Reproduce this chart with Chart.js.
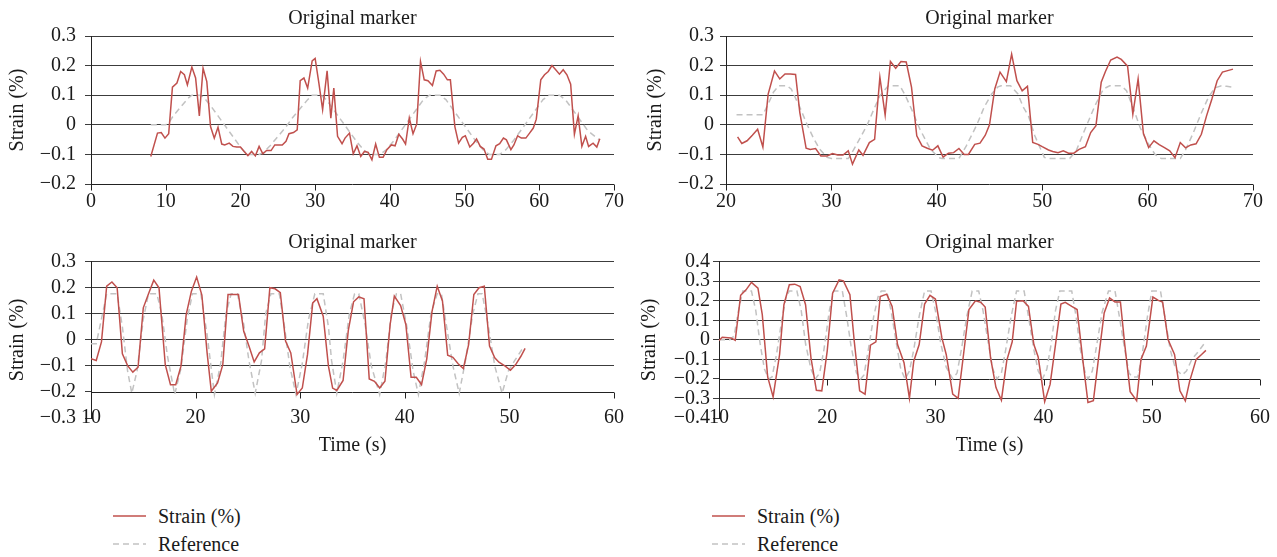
<!DOCTYPE html>
<html>
<head>
<meta charset="utf-8">
<script src="https://cdn.jsdelivr.net/npm/chart.js@4.4.0/dist/chart.umd.min.js"></script>
<style>
  body { margin: 0; background: #fff; width: 1277px; height: 557px; position: relative; overflow: hidden; }
  canvas { position: absolute; }
  .legend { position: absolute; font: 20px 'Liberation Serif', 'DejaVu Serif', serif; color: #1a1a1a; }
  .legend .item { height: 28px; display: flex; align-items: center; white-space: nowrap; }
  .legend svg { margin-right: 12px; }
</style>
</head>
<body>
<canvas id="tl" width="640" height="220" style="left:0;top:0"></canvas>
<canvas id="tr" width="640" height="220" style="left:637px;top:0"></canvas>
<canvas id="bl" width="640" height="240" style="left:0;top:225px"></canvas>
<canvas id="br" width="640" height="240" style="left:637px;top:225px"></canvas>
<div class="legend" id="legendLeft" style="left:113px;top:502px"></div>
<div class="legend" id="legendRight" style="left:712px;top:502px"></div>
<script>
// top left panel
const tlTime = [8.0, 8.9, 9.4, 9.9, 10.4, 10.9, 11.5, 12.0, 12.5, 12.9, 13.5, 14.0, 14.5, 15.0, 15.5, 16.0, 16.5, 17.0, 17.5, 17.9,
  18.5, 19.0, 19.5, 20.0, 20.5, 21.0, 21.5, 22.0, 22.5, 23.0, 23.5, 24.1, 24.6, 25.1, 25.6, 26.1, 26.5, 27.1, 27.6, 28.0,
  28.5, 29.0, 29.6, 30.0, 30.5, 31.0, 31.6, 32.1, 32.5, 33.0, 33.6, 34.0, 34.6, 35.1, 35.6, 36.1, 36.6, 37.1, 37.6, 38.1,
  38.6, 39.1, 39.6, 40.2, 40.7, 41.2, 41.7, 42.1, 42.6, 43.1, 43.6, 44.1, 44.6, 45.1, 45.7, 46.2, 46.7, 47.2, 47.7, 48.1,
  48.7, 49.2, 49.7, 50.1, 50.7, 51.2, 51.6, 52.1, 52.6, 53.1, 53.6, 54.2, 54.7, 55.2, 55.6, 56.2, 56.6, 57.1, 57.6, 58.2,
  58.7, 59.2, 59.6, 60.2, 60.7, 61.2, 61.7, 62.2, 62.7, 63.2, 63.7, 64.2, 64.7, 65.2, 65.7, 66.2, 66.6, 67.2, 67.7, 68.1];
const tlStrain = [-0.107, -0.028, -0.026, -0.045, -0.03, 0.127, 0.141, 0.18, 0.169, 0.135, 0.195, 0.158, 0.03, 0.191, 0.146, -0.006, -0.045, -0.008, -0.065, -0.068,
  -0.062, -0.073, -0.075, -0.075, -0.09, -0.104, -0.09, -0.105, -0.073, -0.098, -0.087, -0.087, -0.068, -0.068, -0.068, -0.056, -0.03, -0.026, -0.017, 0.149,
  0.158, 0.124, 0.216, 0.224, 0.141, 0.051, 0.182, 0.022, 0.124, -0.039, -0.064, -0.045, -0.028, -0.098, -0.071, -0.107, -0.09, -0.093, -0.118, -0.065,
  -0.11, -0.11, -0.084, -0.068, -0.071, -0.032, -0.048, -0.065, 0.023, -0.03, 0.003, 0.214, 0.152, 0.149, 0.133, 0.182, 0.184, 0.171, 0.152, 0.152,
  -0.006, -0.062, -0.042, -0.037, -0.075, -0.062, -0.048, -0.073, -0.082, -0.116, -0.116, -0.071, -0.064, -0.045, -0.051, -0.084, -0.068, -0.037, -0.045, -0.045,
  -0.028, -0.011, 0.019, 0.152, 0.169, 0.18, 0.2, 0.186, 0.171, 0.186, 0.169, 0.137, -0.032, 0.03, -0.073, -0.039, -0.073, -0.062, -0.075, -0.047];
const tlRefTime = [8, 9, 10, 10.5, 11, 12, 13, 13.5, 14.5, 15, 16, 17, 18, 19, 20, 20.5, 21, 22.5, 23, 24,
  25, 26, 27, 28, 29, 29.6, 30.8, 31.5, 32.5, 33.5, 34.5, 35.5, 36.5, 37.3, 38.7, 39.5, 40.5, 41.5, 42.5, 43.5,
  44.5, 45.3, 46.7, 47.5, 48.5, 49.5, 50.5, 51.5, 52.5, 53.3, 54.7, 55.5, 56.5, 57.5, 58.5, 59.5, 60.5, 61.3, 62.7, 63.5,
  64.5, 65.5, 66.5, 67.5, 68];
const tlRef = [0, 0, 0, 0.01, 0.03, 0.06, 0.09, 0.1, 0.1, 0.095, 0.065, 0.03, -0.005, -0.04, -0.075, -0.09, -0.1, -0.1, -0.095, -0.07,
  -0.04, -0.01, 0.025, 0.055, 0.085, 0.1, 0.1, 0.085, 0.05, 0.015, -0.02, -0.055, -0.085, -0.1, -0.1, -0.085, -0.055, -0.02, 0.015, 0.05,
  0.085, 0.1, 0.1, 0.085, 0.05, 0.015, -0.02, -0.055, -0.085, -0.1, -0.1, -0.085, -0.055, -0.02, 0.015, 0.05, 0.085, 0.1, 0.1, 0.085,
  0.05, 0.015, -0.02, -0.04, -0.05];

// top right panel
const trTime = [21.1, 21.5, 22.0, 22.5, 23.0, 23.5, 24.0, 24.6, 25.1, 25.6, 26.1, 26.6, 27.0, 27.6, 28.0, 28.5, 29.0, 29.6, 30.1, 30.6,
  31.1, 31.6, 32.0, 32.6, 33.0, 33.6, 34.1, 34.6, 35.1, 35.6, 36.1, 36.6, 37.1, 37.6, 38.1, 38.6, 39.1, 39.6, 40.1, 40.6,
  41.1, 41.6, 42.1, 42.6, 43.0, 43.6, 44.1, 44.6, 45.0, 45.5, 46.0, 46.6, 47.1, 47.6, 48.1, 48.6, 49.1, 49.6, 50.0, 50.6,
  51.0, 51.5, 52.0, 52.5, 53.0, 53.5, 54.1, 54.6, 55.1, 55.6, 56.0, 56.5, 57.1, 57.5, 58.1, 58.6, 59.1, 59.6, 60.1, 60.6,
  61.1, 61.6, 62.1, 62.6, 63.1, 63.6, 64.1, 64.6, 65.1, 65.6, 66.1, 66.6, 67.1, 67.6, 68.1];
const trStrain = [-0.041, -0.063, -0.054, -0.035, -0.015, -0.075, 0.104, 0.182, 0.155, 0.172, 0.172, 0.17, 0.042, -0.079, -0.083, -0.08, -0.105, -0.105, -0.097, -0.102,
  -0.102, -0.088, -0.133, -0.085, -0.103, -0.06, -0.049, 0.161, 0.033, 0.214, 0.191, 0.214, 0.212, 0.127, -0.037, -0.071, -0.079, -0.086, -0.071, -0.109,
  -0.096, -0.094, -0.08, -0.1, -0.1, -0.066, -0.062, -0.035, 0.0, 0.121, 0.178, 0.146, 0.239, 0.149, 0.115, 0.13, -0.06, -0.066, -0.074, -0.085,
  -0.09, -0.094, -0.088, -0.096, -0.096, -0.083, -0.074, -0.026, -0.003, 0.144, 0.18, 0.219, 0.229, 0.221, 0.198, 0.036, 0.155, -0.029, -0.077, -0.054,
  -0.067, -0.077, -0.088, -0.111, -0.06, -0.078, -0.068, -0.064, -0.032, 0.031, 0.087, 0.149, 0.178, 0.183, 0.188];
const trRefTime = [21, 23.5, 24, 24.5, 25, 25.8, 26.2, 27, 27.7, 28.3, 28.9, 29.6, 30, 31.6, 32.1, 32.8, 33.4, 34, 34.6, 35.4,
  36.5, 37, 37.6, 38.4, 39.4, 40.2, 40.5, 42.1, 42.8, 43.8, 44.5, 45.2, 45.8, 46.1, 47, 47.7, 48.2, 48.7, 49.3, 50.2,
  50.7, 52.6, 53.2, 54, 55, 55.8, 56.4, 57.5, 58, 58.6, 59.3, 60, 60.7, 61.3, 63.1, 63.6, 64.3, 65.1, 65.8, 66.4,
  67, 67.5, 68.1];
const trRef = [0.034, 0.034, 0.07, 0.11, 0.132, 0.132, 0.12, 0.06, 0, -0.045, -0.083, -0.11, -0.114, -0.114, -0.085, -0.04, 0, 0.05, 0.098, 0.132,
  0.132, 0.1, 0.053, -0.015, -0.083, -0.111, -0.114, -0.114, -0.071, 0, 0.06, 0.104, 0.128, 0.132, 0.132, 0.104, 0.06, 0.03, -0.037, -0.11,
  -0.114, -0.114, -0.09, -0.02, 0.064, 0.121, 0.132, 0.132, 0.115, 0.06, -0.01, -0.06, -0.1, -0.114, -0.114, -0.085, -0.03, 0.04, 0.095, 0.125,
  0.132, 0.13, 0.127];

// bottom left panel
const blTime = [10.0, 10.5, 11.0, 11.5, 12.0, 12.5, 13.0, 13.5, 14.0, 14.5, 15.0, 15.5, 16.0, 16.5, 17.1, 17.6, 18.1, 18.6, 19.1, 19.6,
  20.1, 20.6, 21.1, 21.5, 22.1, 22.6, 23.1, 23.6, 24.1, 24.6, 25.1, 25.6, 26.1, 26.6, 27.1, 27.6, 28.1, 28.6, 29.1, 29.7,
  30.2, 30.7, 31.2, 31.6, 32.2, 32.7, 33.1, 33.5, 34.1, 34.6, 35.1, 35.6, 36.1, 36.6, 37.1, 37.6, 38.1, 38.6, 39.0, 39.6,
  40.1, 40.6, 41.1, 41.6, 42.1, 42.6, 43.1, 43.6, 44.1, 44.6, 45.1, 45.6, 46.1, 46.6, 47.1, 47.6, 48.1, 48.6, 49.0, 49.6,
  50.1, 50.6, 51.1, 51.5];
const blStrain = [-0.072, -0.079, -0.008, 0.206, 0.222, 0.2, -0.054, -0.099, -0.124, -0.105, 0.123, 0.177, 0.229, 0.2, -0.095, -0.172, -0.172, -0.101, 0.097, 0.187,
  0.241, 0.172, -0.05, -0.197, -0.165, -0.095, 0.174, 0.174, 0.174, 0.033, -0.024, -0.085, -0.05, -0.035, 0.2, 0.196, 0.181, -0.005, -0.05, -0.21,
  -0.185, -0.056, 0.142, 0.158, 0.091, -0.101, -0.185, -0.194, -0.156, 0.036, 0.146, 0.165, 0.158, -0.15, -0.159, -0.185, -0.159, 0.059, 0.168, 0.132,
  0.059, -0.144, -0.144, -0.172, -0.073, 0.108, 0.206, 0.149, -0.059, -0.067, -0.092, -0.11, -0.018, 0.174, 0.2, 0.206, -0.024, -0.069, -0.086, -0.101,
  -0.117, -0.095, -0.063, -0.033];
const blRefTime = [10, 10.5, 11, 11.5, 12.5, 13, 13.5, 13.9, 14.4, 15, 15.5, 16.3, 16.8, 17.3, 18, 18.6, 19.2, 19.7, 20.5, 21.1,
  21.8, 22.4, 22.9, 23.4, 24, 24.6, 25.1, 25.7, 26.3, 26.7, 27.2, 28, 28.5, 29, 29.6, 30.2, 30.8, 31.4, 32.2, 32.7,
  33, 33.5, 34.1, 34.7, 35.2, 35.6, 36.2, 36.8, 37.6, 38.2, 38.7, 39.2, 39.6, 40.2, 40.8, 41.3, 41.9, 42.5, 43.1, 43.5,
  44, 44.6, 45.2, 45.8, 46.5, 47, 47.4, 48, 48.6, 49.3, 49.9, 50.5, 51.2];
const blRef = [-0.015, -0.015, 0.08, 0.177, 0.177, 0.05, -0.12, -0.205, -0.12, 0.08, 0.177, 0.177, 0.09, -0.06, -0.21, -0.11, 0.08, 0.177, 0.177, 0.02,
  -0.21, -0.09, 0.1, 0.177, 0.177, 0.06, -0.08, -0.205, -0.08, 0.1, 0.177, 0.177, 0.05, -0.1, -0.21, -0.09, 0.08, 0.177, 0.177, 0.05,
  -0.08, -0.205, -0.08, 0.1, 0.177, 0.177, 0.06, -0.1, -0.21, -0.08, 0.1, 0.177, 0.177, 0.05, -0.12, -0.21, -0.08, 0.1, 0.177, 0.177,
  0.05, -0.1, -0.205, -0.08, 0.1, 0.177, 0.177, 0.05, -0.1, -0.205, -0.12, -0.08, -0.037];

// bottom right panel
const brTime = [10.0, 10.3, 11.1, 11.5, 12.0, 12.5, 13.0, 13.6, 14.0, 14.5, 15.0, 15.6, 16.0, 16.5, 17.0, 17.5, 18.0, 18.5, 19.0, 19.5,
  20.0, 20.5, 21.1, 21.5, 22.1, 22.5, 23.0, 23.5, 24.0, 24.5, 24.9, 25.5, 26.0, 26.5, 27.1, 27.6, 28.0, 28.5, 29.0, 29.5,
  30.0, 30.6, 31.0, 31.6, 32.1, 32.6, 33.1, 33.7, 34.2, 34.6, 35.1, 35.6, 36.1, 36.6, 37.1, 37.5, 38.1, 38.6, 39.1, 39.5,
  40.1, 40.6, 41.1, 41.6, 42.0, 42.6, 43.1, 43.6, 44.1, 44.6, 45.1, 45.6, 46.1, 46.6, 47.1, 47.5, 48.0, 48.6, 49.0, 49.5,
  50.1, 50.6, 51.0, 51.5, 52.1, 52.6, 53.1, 53.5, 54.1, 54.6, 55.0];
const brStrain = [-0.003, 0.013, 0.01, -0.002, 0.228, 0.256, 0.294, 0.265, 0.129, -0.19, -0.292, -0.075, 0.18, 0.282, 0.285, 0.273, 0.18, -0.092, -0.258, -0.261,
  -0.058, 0.239, 0.307, 0.302, 0.231, -0.007, -0.261, -0.278, -0.027, -0.01, 0.222, 0.234, 0.171, -0.024, -0.117, -0.299, -0.109, -0.024, 0.183, 0.228,
  0.209, 0.01, -0.075, -0.278, -0.299, -0.075, 0.155, 0.2, 0.192, 0.168, -0.092, -0.244, -0.309, -0.105, -0.01, 0.197, 0.2, 0.171, -0.024, -0.088,
  -0.316, -0.228, -0.024, 0.183, 0.192, 0.171, 0.155, -0.092, -0.321, -0.312, -0.083, 0.138, 0.214, 0.194, 0.194, -0.024, -0.265, -0.312, -0.1, -0.032,
  0.219, 0.202, 0.194, 0.002, -0.075, -0.261, -0.312, -0.211, -0.1, -0.075, -0.054];
const brRefTime = [10, 11, 11.4, 11.8, 12.2, 13, 13.4, 13.8, 14.2, 14.6, 14.9, 15.3, 15.8, 16.2, 16.5, 17.2, 17.6, 18, 18.5, 18.9,
  19.3, 19.7, 20.2, 20.6, 21.4, 21.8, 22.2, 22.7, 23.1, 23.4, 23.8, 24.3, 24.7, 25, 25.5, 25.9, 26.4, 26.8, 27.2, 27.6,
  28, 28.5, 29, 29.6, 30, 30.5, 31, 31.6, 32, 32.4, 32.9, 33.4, 34, 34.4, 34.9, 35.3, 35.7, 36.1, 36.5, 37,
  37.5, 38.2, 38.6, 39.1, 39.5, 39.9, 40.3, 40.7, 41.1, 41.5, 42.6, 43, 43.4, 43.8, 44.1, 44.5, 44.9, 45.4, 46, 46.6,
  47, 47.5, 47.9, 48.2, 48.7, 49.1, 49.6, 50, 50.8, 51.2, 51.7, 52.2, 52.8, 53.2, 53.7, 54.3, 54.9];
const brRef = [0, 0, 0.02, 0.15, 0.25, 0.25, 0.15, -0.02, -0.15, -0.2, -0.19, -0.08, 0.1, 0.22, 0.25, 0.25, 0.15, -0.02, -0.15, -0.2,
  -0.17, -0.05, 0.15, 0.25, 0.25, 0.12, -0.03, -0.17, -0.2, -0.18, -0.05, 0.12, 0.22, 0.25, 0.25, 0.15, -0.02, -0.15, -0.2, -0.16,
  -0.05, 0.12, 0.25, 0.25, 0.15, -0.02, -0.14, -0.2, -0.17, -0.05, 0.12, 0.25, 0.25, 0.15, -0.02, -0.15, -0.2, -0.17, -0.05, 0.12,
  0.25, 0.25, 0.12, -0.05, -0.16, -0.2, -0.15, -0.02, 0.15, 0.25, 0.25, 0.12, -0.05, -0.16, -0.2, -0.16, -0.03, 0.14, 0.25, 0.25,
  0.12, -0.05, -0.17, -0.19, -0.19, -0.08, 0.12, 0.25, 0.25, 0.12, -0.05, -0.15, -0.18, -0.16, -0.1, -0.06, -0.015];

const RED = '#c0504d';
const GREY = '#c2c2c2';
const INK = '#1a1a1a';
const GRID = '#3c3c3c';
const AXIS = '#222';

Chart.defaults.font.family = "'Liberation Serif', 'DejaVu Serif', serif";
Chart.defaults.font.size = 20;
Chart.defaults.color = INK;

const pts = (t, v) => t.map((x, i) => ({ x: x, y: v[i] }));

// horizontal axis crossing the value axis, with its tick marks
const crossAxis = {
  id: 'crossAxis',
  beforeDatasetsDraw(chart, args, opts) {
    const { ctx, chartArea, scales: { x, y } } = chart;
    const py = Math.round(y.getPixelForValue(opts.value)) + 0.5;
    ctx.save();
    ctx.strokeStyle = AXIS;
    ctx.lineWidth = 1;
    ctx.beginPath();
    ctx.moveTo(chartArea.left, py);
    ctx.lineTo(chartArea.right, py);
    x.ticks.forEach(t => {
      const px = Math.round(x.getPixelForValue(t.value)) + 0.5;
      ctx.moveTo(px, py);
      ctx.lineTo(px, py + 6);
    });
    ctx.stroke();
    ctx.restore();
  }
};

// legend rendered as html under the chart column
const htmlLegend = {
  id: 'htmlLegend',
  afterUpdate(chart, args, opts) {
    const box = opts.containerID && document.getElementById(opts.containerID);
    if (!box) return;
    box.innerHTML = '';
    chart.data.datasets.forEach(ds => {
      const row = document.createElement('div');
      row.className = 'item';
      const dash = (ds.borderDash || []).join(',');
      row.innerHTML = '<svg width="33" height="4"><line x1="0" y1="2" x2="33" y2="2" stroke="' + ds.borderColor +
        '" stroke-width="' + ds.borderWidth + '"' + (dash ? ' stroke-dasharray="' + dash + '"' : '') + '/></svg><span>' + ds.label + '</span>';
      box.appendChild(row);
    });
  }
};

function makePanel(id, o) {
  const hidden = v => Math.abs(v - o.yMin) < 1e-9 || Math.abs(v - o.cross) < 1e-9;
  return new Chart(document.getElementById(id), {
    type: 'line',
    data: {
      datasets: [{
        label: 'Strain (%)',
        data: pts(o.strainT, o.strainV),
        borderColor: RED,
        borderWidth: 1.5,
        pointRadius: 0
      }, {
        label: 'Reference',
        data: pts(o.refT, o.refV),
        borderColor: GREY,
        borderDash: [6, 4],
        borderWidth: 1.5,
        pointRadius: 0
      }]
    },
    options: {
      responsive: false,
      animation: false,
      layout: { padding: { right: o.padRight } },
      plugins: {
        legend: { display: false },
        tooltip: { enabled: false },
        title: {
          display: true,
          text: 'Original marker',
          fullSize: false,
          color: INK,
          font: { size: 20, weight: 'normal' },
          padding: { top: o.titleTop, bottom: o.titleBottom }
        },
        crossAxis: { value: o.cross },
        htmlLegend: { containerID: o.legendId }
      },
      scales: {
        x: {
          type: 'linear',
          min: o.xMin,
          max: o.xMax,
          ticks: { stepSize: 10, padding: o.xPad, mirror: !!o.xMirror, color: INK },
          grid: { display: false, drawTicks: false },
          border: { display: false },
          title: {
            display: !!o.xTitle,
            text: o.xTitle || '',
            color: INK,
            padding: { top: 0, bottom: 7 }
          },
          afterFit: s => { s.height = o.xHeight; }
        },
        y: {
          min: o.yMin,
          max: o.yMax,
          ticks: {
            stepSize: 0.1,
            autoSkip: false,
            padding: o.yPad,
            color: INK,
            callback: v => {
              const r = Math.round(v * 10) / 10;
              return r === 0 ? '0' : (r < 0 ? '\u2212' + Math.abs(r).toFixed(1) : r.toFixed(1));
            }
          },
          grid: {
            color: c => (c.tick && hidden(c.tick.value)) ? 'rgba(0,0,0,0)' : GRID,
            tickColor: GRID,
            tickLength: 6,
            lineWidth: 1
          },
          border: { color: AXIS, width: 1 },
          title: {
            display: true,
            text: 'Strain (%)',
            color: INK,
            padding: { top: o.yTitlePad, bottom: 0 }
          },
          afterFit: s => { s.width = o.yWidth; }
        }
      }
    },
    plugins: [crossAxis, htmlLegend]
  });
}

makePanel('tl', {
  strainT: tlTime, strainV: tlStrain, refT: tlRefTime, refV: tlRef,
  xMin: 0, xMax: 70, yMin: -0.2, yMax: 0.3, cross: -0.2,
  yWidth: 91, padRight: 26, xHeight: 36, xPad: 6, yPad: 9, yTitlePad: 6,
  titleTop: 7, titleBottom: 5
});
makePanel('tr', {
  strainT: trTime, strainV: trStrain, refT: trRefTime, refV: trRef,
  xMin: 20, xMax: 70, yMin: -0.2, yMax: 0.3, cross: -0.2,
  yWidth: 89, padRight: 24, xHeight: 36, xPad: 6, yPad: 6, yTitlePad: 7,
  titleTop: 7, titleBottom: 5
});
makePanel('bl', {
  strainT: blTime, strainV: blStrain, refT: blRefTime, refV: blRef,
  xMin: 10, xMax: 60, yMin: -0.3, yMax: 0.3, cross: -0.2, xTitle: 'Time (s)',
  yWidth: 91, padRight: 26, xHeight: 47, xPad: -12, xMirror: true, yPad: 9, yTitlePad: 6,
  titleTop: 6, titleBottom: 6.7, legendId: 'legendLeft'
});
makePanel('br', {
  strainT: brTime, strainV: brStrain, refT: brRefTime, refV: brRef,
  xMin: 10, xMax: 60, yMin: -0.4, yMax: 0.4, cross: -0.2, xTitle: 'Time (s)',
  yWidth: 82, padRight: 17, xHeight: 47, xPad: -12, xMirror: true, yPad: 3, yTitlePad: 1,
  titleTop: 6, titleBottom: 6.7, legendId: 'legendRight'
});
</script>
</body>
</html>
